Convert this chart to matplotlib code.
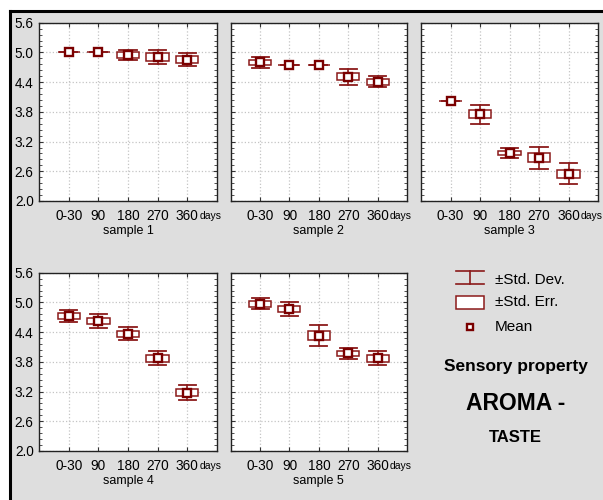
import matplotlib
matplotlib.use("Agg")
import matplotlib.pyplot as plt
from matplotlib.patches import Rectangle
from matplotlib.lines import Line2D

# ---- data ----
days = ["0-30", "90", "180", "270", "360"]
samples = ["sample 1", "sample 2", "sample 3", "sample 4", "sample 5"]

mean_s1 = [5.00, 5.00, 4.95, 4.91, 4.85]
sd_s1 = [0.00, 0.00, 0.10, 0.135, 0.13]
se_s1 = [0.00, 0.00, 0.055, 0.075, 0.07]

mean_s2 = [4.80, 4.75, 4.75, 4.51, 4.41]
sd_s2 = [0.115, 0.00, 0.00, 0.165, 0.11]
se_s2 = [0.05, 0.00, 0.00, 0.075, 0.06]

mean_s3 = [4.01, 3.75, 2.97, 2.87, 2.55]
sd_s3 = [0.00, 0.19, 0.11, 0.22, 0.21]
se_s3 = [0.00, 0.08, 0.045, 0.09, 0.085]

mean_s4 = [4.72, 4.62, 4.37, 3.87, 3.18]
sd_s4 = [0.12, 0.14, 0.135, 0.14, 0.145]
se_s4 = [0.06, 0.065, 0.06, 0.065, 0.065]

mean_s5 = [4.97, 4.87, 4.33, 3.97, 3.87]
sd_s5 = [0.11, 0.14, 0.21, 0.11, 0.14]
se_s5 = [0.055, 0.065, 0.09, 0.055, 0.065]

y_ticks = [2.0, 2.6, 3.2, 3.8, 4.4, 5.0, 5.6]

FONT = "Liberation Sans"
W, H = 603, 500
DARK_RED = "#8b1a1a"
BG = "#dedede"

fig = plt.figure(figsize=(W / 100, H / 100), dpi=100, facecolor="white")

# gray panel with a black edge along top and left
fig.patches.append(Rectangle((10 / W, 0), 1 - 10 / W, 1 - 11 / H, transform=fig.transFigure,
                             facecolor=BG, edgecolor="none", zorder=-10))
fig.add_artist(Line2D([10 / W, 1], [1 - 11 / H, 1 - 11 / H], transform=fig.transFigure,
                      color="black", lw=2.2))
fig.add_artist(Line2D([10 / W, 10 / W], [0, 1 - 11 / H], transform=fig.transFigure,
                      color="black", lw=2.2))


def add_axes_px(left, right, top, bottom):
    return fig.add_axes([left / W, 1 - bottom / H, (right - left) / W, (bottom - top) / H])


def draw_panel(ax, means, sds, ses, title):
    ax.set_facecolor("white")
    ax.set_xlim(0, 6)
    ax.set_ylim(2.0, 5.6)
    xs = list(range(1, len(days) + 1))
    ax.set_xticks(xs)
    ax.set_xticklabels(days, fontsize=9.8, family=FONT)
    # unit label sits after the last category, drawn as an unmarked minor tick
    ax.set_xticks([5.78], minor=True)
    ax.set_xticklabels(["days"], minor=True, fontsize=7.5, family=FONT)
    ax.set_yticks(y_ticks)
    ax.set_yticklabels([f"{v:.1f}" for v in y_ticks], fontsize=9.8, family=FONT)
    ax.set_yticks([2.0 + 0.12 * i for i in range(31)], minor=True)
    ax.tick_params(axis="both", which="both", direction="in", top=True, right=True,
                   color="#333333")
    ax.tick_params(axis="x", which="major", length=3, pad=6)
    ax.tick_params(axis="x", which="minor", length=0, pad=7.5)
    ax.tick_params(axis="y", which="major", length=3, pad=4)
    ax.tick_params(axis="y", which="minor", length=2)
    ax.grid(True, which="major", linestyle=":", color="#c4c4c4", lw=0.9)
    ax.set_axisbelow(True)
    for s in ax.spines.values():
        s.set_color("#222222")
        s.set_linewidth(1.0)

    box_w = 0.75
    cap_w = 0.58
    for x, m, sd, se in zip(xs, means, sds, ses):
        ax.plot([x, x], [m - sd, m + sd], color=DARK_RED, lw=1.2, zorder=3)
        ax.plot([x - cap_w / 2, x + cap_w / 2], [m + sd, m + sd], color=DARK_RED, lw=1.3, zorder=3)
        ax.plot([x - cap_w / 2, x + cap_w / 2], [m - sd, m - sd], color=DARK_RED, lw=1.3, zorder=3)
        ax.add_patch(Rectangle((x - box_w / 2, m - se), box_w, 2 * se, facecolor="white",
                               edgecolor=DARK_RED, lw=1.1, zorder=4))
        ax.plot([x], [m], marker="s", markersize=5.8, markerfacecolor="white",
                markeredgecolor="#7a0000", markeredgewidth=1.7, zorder=5)

    ax.set_xlabel(title, fontsize=9, family=FONT, labelpad=1)


panels = [
    ((39.3, 216.7, 22.7, 201), mean_s1, sd_s1, se_s1),
    ((230.7, 407, 22.7, 201), mean_s2, sd_s2, se_s2),
    ((421, 598, 22.7, 201), mean_s3, sd_s3, se_s3),
    ((39.3, 216.7, 272.7, 451), mean_s4, sd_s4, se_s4),
    ((230.7, 407, 272.7, 451), mean_s5, sd_s5, se_s5),
]

for i, (box, m, sd, se) in enumerate(panels):
    ax = add_axes_px(*box)
    draw_panel(ax, m, sd, se, samples[i])
    if i in (1, 2, 4):
        ax.tick_params(axis="y", which="both", labelleft=False)

# ---- legend and caption (figure pixel coordinates) ----
def fx(px):
    return px / W


def fy(py):
    return 1 - py / H


# ±Std. Dev. symbol
fig.add_artist(Line2D([fx(456), fx(484)], [fy(271), fy(271)], color=DARK_RED, lw=1.2))
fig.add_artist(Line2D([fx(456), fx(484)], [fy(283.5), fy(283.5)], color=DARK_RED, lw=1.2))
fig.add_artist(Line2D([fx(470), fx(470)], [fy(271), fy(283.5)], color=DARK_RED, lw=1.2))
# ±Std. Err. symbol
fig.add_artist(Rectangle((fx(456), fy(308.5)), (484 - 456) / W, (308.5 - 296) / H,
                         transform=fig.transFigure, facecolor="white",
                         edgecolor=DARK_RED, lw=1.1))
# Mean symbol
fig.add_artist(Line2D([fx(469.5)], [fy(327)], marker="s", markersize=5,
                      markerfacecolor="white", markeredgecolor="#7a0000",
                      markeredgewidth=1.7, linestyle="none"))

fig.text(fx(495), fy(279.5), "±Std. Dev.", fontsize=11, family=FONT, va="center", ha="left")
fig.text(fx(495), fy(302.5), "±Std. Err.", fontsize=11, family=FONT, va="center", ha="left")
fig.text(fx(495), fy(327), "Mean", fontsize=11, family=FONT, va="center", ha="left")

fig.text(fx(515.5), fy(366.5), "Sensory property", fontsize=12.5, family=FONT,
         fontweight="bold", ha="center", va="center")
fig.text(fx(515.5), fy(404), "AROMA -", fontsize=16.5, family=FONT,
         fontweight="bold", ha="center", va="center")
fig.text(fx(515.5), fy(438), "TASTE", fontsize=12, family=FONT,
         fontweight="bold", ha="center", va="center")

fig.savefig("out.png", dpi=100, facecolor="white")
